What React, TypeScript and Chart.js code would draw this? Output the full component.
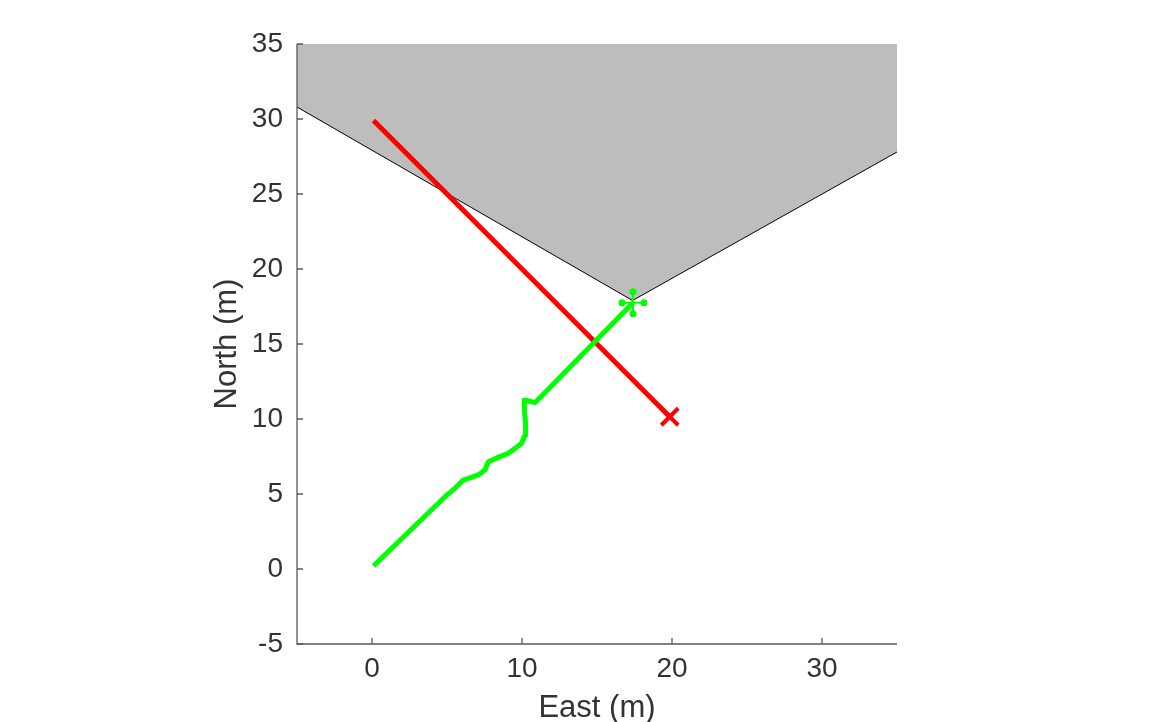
import React, { useEffect, useRef } from "react";
import { Chart, registerables } from "chart.js";
Chart.register(...registerables);

// Field-of-view wedge boundary (filled up to the top of the axes)
const fovX = [-5, 17.37, 35];
const fovY = [30.8, 17.9, 27.8];
// Red straight track
const redX = [0.1, 19.85];
const redY = [29.9, 10.15];
// Green estimated track
const greenX = [0.1, 4.87, 5.53, 6.09, 7.09, 7.53, 7.76, 8.53, 9.09, 9.53, 9.98, 10.2, 10.24, 10.16, 10.16, 10.64, 10.87, 17.4];
const greenY = [0.2, 4.82, 5.38, 5.93, 6.27, 6.6, 7.15, 7.49, 7.71, 8.04, 8.38, 8.93, 9.71, 10.49, 11.27, 11.15, 11.09, 17.75];
// End markers
const greenEnd = { x: 17.4, y: 17.75 };
const redEnd = { x: 19.85, y: 10.15 };
// Ticks
const xTicks = [0, 10, 20, 30];
const yTicks = [-5, 0, 5, 10, 15, 20, 25, 30, 35];
const xLabel = "East (m)";
const yLabel = "North (m)";

const FONT = "'Liberation Sans', Arial, Helvetica, sans-serif";
const TEXT = "#333333";
const AXIS = "#5a5a5a";

const toPts = (xs: number[], ys: number[]) => xs.map((v, i) => ({ x: v, y: ys[i] }));

const axesPlugin = {
  id: "matlabAxes",
  afterDatasetsDraw(chart: any) {
    const { ctx, chartArea, scales } = chart;
    const { left, right, top, bottom } = chartArea;
    ctx.save();
    ctx.strokeStyle = AXIS;
    ctx.lineWidth = 1.3;
    ctx.beginPath();
    ctx.moveTo(left, top);
    ctx.lineTo(left, bottom);
    ctx.lineTo(right, bottom);
    ctx.stroke();
    ctx.beginPath();
    xTicks.forEach((v) => {
      const px = scales.x.getPixelForValue(v);
      ctx.moveTo(px, bottom);
      ctx.lineTo(px, bottom - 6);
    });
    yTicks.forEach((v) => {
      const py = scales.y.getPixelForValue(v);
      ctx.moveTo(left, py);
      ctx.lineTo(left + 6, py);
    });
    ctx.stroke();
    // green star marker end dots
    chart.data.datasets.forEach((ds: any, i: number) => {
      if (!ds.starDots) return;
      const meta = chart.getDatasetMeta(i);
      meta.data.forEach((pt: any) => {
        ctx.fillStyle = ds.borderColor;
        const r = 11;
        [[0, -r], [0, r], [-r, 0], [r, 0]].forEach(([dx, dy]) => {
          ctx.beginPath();
          ctx.arc(pt.x + dx, pt.y + dy, 3.5, 0, Math.PI * 2);
          ctx.fill();
        });
      });
    });
    ctx.restore();
  },
};

export default function App() {
  const ref = useRef<HTMLCanvasElement | null>(null);
  useEffect(() => {
    if (!ref.current) return;
    const chart = new Chart(ref.current, {
      type: "scatter",
      data: {
        datasets: [
          {
            data: toPts(fovX, fovY),
            showLine: true,
            borderColor: "#000000",
            borderWidth: 1,
            backgroundColor: "#bdbdbd",
            fill: "end",
            pointRadius: 0,
            order: 10,
          } as any,
          {
            data: toPts(redX, redY),
            showLine: true,
            borderColor: "#ff0000",
            borderWidth: 5,
            pointRadius: 0,
            order: 6,
          },
          {
            data: toPts(greenX, greenY),
            showLine: true,
            borderColor: "#00ff00",
            borderWidth: 5,
            borderJoinStyle: "round",
            borderCapStyle: "butt",
            pointRadius: 0,
            order: 5,
          },
          {
            data: [greenEnd],
            showLine: false,
            pointStyle: "cross",
            pointRadius: 11,
            pointBorderWidth: 2,
            borderColor: "#00ff00",
            pointBorderColor: "#00ff00",
            order: 2,
            starDots: true,
          } as any,
          {
            data: [redEnd],
            showLine: false,
            pointStyle: "crossRot",
            pointRadius: 12,
            pointBorderWidth: 4,
            pointBorderColor: "#ff0000",
            order: 1,
          },
        ],
      },
      options: {
        animation: false,
        responsive: false,
        events: [],
        layout: { padding: { left: 212, top: 44, right: 273, bottom: 0 } },
        plugins: { legend: { display: false }, tooltip: { enabled: false } },
        scales: {
          x: {
            type: "linear",
            min: -5,
            max: 35,
            afterBuildTicks: (s: any) => {
              s.ticks = xTicks.map((v) => ({ value: v }));
            },
            afterFit: (s: any) => {
              s.height = 78;
            },
            grid: { display: false, drawTicks: false },
            border: { display: false },
            ticks: { color: TEXT, font: { family: FONT, size: 28 }, padding: 8, maxRotation: 0, autoSkip: false },
            title: { display: true, text: xLabel, color: TEXT, font: { family: FONT, size: 31, lineHeight: 0.85 }, padding: 0 },
          },
          y: {
            type: "linear",
            min: -5,
            max: 35,
            afterBuildTicks: (s: any) => {
              s.ticks = yTicks.map((v) => ({ value: v }));
            },
            afterFit: (s: any) => {
              s.width = 85;
            },
            grid: { display: false, drawTicks: false },
            border: { display: false },
            ticks: { color: TEXT, font: { family: FONT, size: 28 }, padding: 14, autoSkip: false },
            title: { display: true, text: yLabel, color: TEXT, font: { family: FONT, size: 31, lineHeight: 1 }, padding: 0 },
          },
        },
      } as any,
      plugins: [axesPlugin],
    });
    return () => chart.destroy();
  }, []);
  return (
    <div style={{ position: "absolute", left: 0, top: 0, width: 1170, height: 722, background: "#fff" }}>
      <canvas ref={ref} width={1170} height={722} style={{ width: 1170, height: 722, display: "block" }} />
    </div>
  );
}
